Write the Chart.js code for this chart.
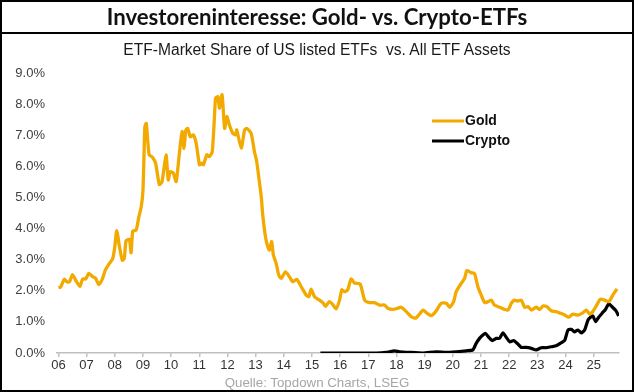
<!DOCTYPE html>
<html>
<head>
<meta charset="utf-8">
<script src="https://cdn.jsdelivr.net/npm/chart.js@4/dist/chart.umd.min.js"></script>
<style>
  html, body { margin: 0; padding: 0; background: #fff; }
  #wrap { position: relative; width: 634px; height: 392px; overflow: hidden; background: #fff; }
  #c { position: absolute; left: 0; top: 0; }
  #frame { position: absolute; left: 0; top: 0; width: 634px; height: 392px; box-sizing: border-box; border: 2px solid #000; pointer-events: none; }
  #header { position: absolute; left: 0; top: 0; width: 634px; height: 34px; box-sizing: border-box; border-bottom: 2px solid #000; text-align: center; font-family: Lato, "Open Sans", sans-serif; font-weight: 700; font-size: 22.2px; line-height: 33px; color: #111; }
  #sub { position: absolute; left: 0; top: 41px; width: 634px; text-align: center; font-family: "Liberation Sans", Arial, sans-serif; font-size: 15.6px; line-height: 18px; color: #1a1a1a; white-space: pre; }
  #src { position: absolute; left: 0; top: 375px; width: 634px; text-align: center; font-family: "Liberation Sans", Arial, sans-serif; font-size: 13.3px; line-height: 16px; color: #a6a6a6; white-space: pre; }
</style>
</head>
<body>
<div id="wrap">
  <canvas id="c" width="634" height="392"></canvas>
  <div id="header">Investoreninteresse: Gold- vs. Crypto-ETFs</div>
  <div id="sub">ETF-Market Share of US listed ETFs  vs. All ETF Assets</div>
  <div id="src">Quelle: Topdown Charts, LSEG</div>
  <div id="frame"></div>
</div>
<script>
const tickYears = [2006,2007,2008,2009,2010,2011,2012,2013,2014,2015,2016,2017,2018,2019,2020,2021,2022,2023,2024,2025];
const tickLabels = ['06','07','08','09','10','11','12','13','14','15','16','17','18','19','20','21','22','23','24','25'];
const yTicks = [0,1,2,3,4,5,6,7,8,9];

const goldDates = [2006.00,2006.08,2006.21,2006.31,2006.40,2006.50,2006.62,2006.76,2006.86,2006.97,
2007.08,2007.22,2007.32,2007.43,2007.55,2007.67,2007.81,2007.93,2008.00,2008.07,
2008.17,2008.27,2008.34,2008.40,2008.52,2008.58,2008.64,2008.76,2008.85,2008.94,
2009.00,2009.04,2009.07,2009.12,2009.22,2009.33,2009.45,2009.58,2009.68,2009.82,
2009.90,2009.97,2010.08,2010.18,2010.30,2010.39,2010.46,2010.52,2010.59,2010.68,
2010.79,2010.89,2011.01,2011.10,2011.15,2011.27,2011.36,2011.46,2011.54,2011.58,
2011.66,2011.72,2011.81,2011.90,2011.98,2012.07,2012.19,2012.29,2012.33,2012.49,
2012.61,2012.69,2012.84,2012.96,2013.04,2013.14,2013.20,2013.26,2013.35,2013.43,
2013.49,2013.57,2013.63,2013.73,2013.82,2013.91,2014.06,2014.20,2014.32,2014.46,
2014.62,2014.80,2014.89,2014.97,2015.09,2015.27,2015.40,2015.48,2015.62,2015.72,
2015.86,2015.98,2016.06,2016.16,2016.27,2016.39,2016.51,2016.71,2016.87,2017.04,
2017.22,2017.40,2017.58,2017.69,2017.87,2018.05,2018.17,2018.35,2018.52,2018.68,
2018.82,2018.94,2019.08,2019.23,2019.39,2019.59,2019.77,2019.89,2020.03,2020.12,
2020.30,2020.42,2020.50,2020.66,2020.77,2020.89,2021.01,2021.13,2021.25,2021.37,
2021.48,2021.66,2021.84,2021.96,2022.08,2022.19,2022.31,2022.43,2022.55,2022.67,
2022.79,2022.96,2023.08,2023.20,2023.34,2023.49,2023.67,2023.81,2023.97,2024.12,
2024.26,2024.44,2024.60,2024.74,2024.86,2024.97,2025.09,2025.24,2025.39,2025.54,
2025.68,2025.83];
const goldValues = [2.10,2.12,2.37,2.28,2.30,2.52,2.33,2.14,2.38,2.38,
2.56,2.45,2.40,2.20,2.36,2.67,2.88,3.04,3.40,3.93,
3.40,2.98,3.05,3.60,3.65,3.22,3.92,3.95,4.35,4.70,
5.20,6.40,7.28,7.38,6.37,6.30,6.10,5.42,5.51,6.37,
5.56,5.83,5.78,5.51,6.47,7.12,6.58,7.15,7.22,6.95,
7.01,6.74,6.05,6.10,6.05,6.37,6.31,6.47,7.60,8.19,
8.24,7.87,8.30,7.22,7.60,7.33,7.06,7.01,7.17,6.58,
7.17,7.22,7.06,6.47,6.15,5.46,5.03,4.38,3.74,3.42,
3.31,3.58,3.15,2.88,2.51,2.40,2.61,2.45,2.29,2.37,
2.13,1.86,1.81,2.05,1.81,1.70,1.60,1.50,1.65,1.58,
1.42,1.70,2.03,1.97,2.03,2.38,2.25,2.22,1.70,1.62,
1.62,1.54,1.54,1.44,1.40,1.44,1.47,1.33,1.17,1.12,
1.25,1.38,1.28,1.20,1.33,1.60,1.60,1.47,1.65,1.97,
2.24,2.40,2.65,2.58,2.56,2.13,1.86,1.62,1.65,1.70,
1.54,1.47,1.40,1.38,1.60,1.70,1.67,1.70,1.47,1.49,
1.38,1.47,1.40,1.51,1.49,1.36,1.33,1.28,1.22,1.15,
1.25,1.22,1.28,1.38,1.25,1.33,1.51,1.73,1.70,1.65,
1.86,2.06];

const cryptoDates = [2015.30,2016.50,2017.28,2017.63,2017.93,2018.11,2018.46,2018.94,2019.41,2019.77,
2020.12,2020.48,2020.71,2020.83,2020.95,2021.07,2021.16,2021.28,2021.40,2021.54,
2021.66,2021.78,2021.90,2022.02,2022.16,2022.31,2022.43,2022.60,2022.79,2022.96,
2023.14,2023.32,2023.49,2023.67,2023.85,2023.97,2024.09,2024.21,2024.32,2024.44,
2024.56,2024.68,2024.80,2024.89,2024.97,2025.07,2025.18,2025.30,2025.42,2025.54,
2025.67,2025.79,2025.89];
const cryptoValues = [0.00,0.00,0.00,0.02,0.07,0.04,0.02,0.00,0.04,0.02,
0.04,0.07,0.10,0.31,0.47,0.58,0.63,0.50,0.40,0.47,
0.47,0.65,0.50,0.36,0.40,0.29,0.18,0.18,0.15,0.10,
0.17,0.17,0.20,0.23,0.33,0.40,0.74,0.76,0.68,0.74,
0.65,0.74,1.06,1.15,1.19,1.01,1.15,1.28,1.40,1.58,
1.47,1.36,1.19];

const seriesNames = ['Gold','Crypto'];
const seriesColors = ['#F2A900','#000000'];

const legendPlugin = {
  id: 'customLegend',
  afterDraw(chart) {
    const ctx = chart.ctx;
    ctx.save();
    chart.data.datasets.forEach((ds, i) => {
      const y = 121 + i * 20;
      ctx.strokeStyle = ds.borderColor;
      ctx.lineWidth = 3;
      ctx.beginPath();
      ctx.moveTo(432, y);
      ctx.lineTo(464, y);
      ctx.stroke();
      ctx.fillStyle = '#111';
      ctx.font = 'bold 14px "Liberation Sans", Arial, sans-serif';
      ctx.textBaseline = 'middle';
      ctx.textAlign = 'left';
      ctx.fillText(ds.label, 465, y + 0.5);
    });
    ctx.restore();
  }
};

new Chart(document.getElementById('c'), {
  type: 'line',
  data: {
    datasets: [
      { label: seriesNames[0], data: goldDates.map((d, i) => ({ x: d, y: goldValues[i] })), borderColor: seriesColors[0], borderWidth: 3.3, pointRadius: 0, tension: 0.2, fill: false },
      { label: seriesNames[1], data: cryptoDates.map((d, i) => ({ x: d, y: cryptoValues[i] })), borderColor: seriesColors[1], borderWidth: 3.2, pointRadius: 0, tension: 0.2, fill: false }
    ]
  },
  plugins: [legendPlugin],
  options: {
    responsive: false,
    animation: false,
    devicePixelRatio: 1,
    layout: { padding: { left: 2, top: 73, right: 15, bottom: 0 } },
    plugins: { legend: { display: false }, tooltip: { enabled: false }, title: { display: false } },
    scales: {
      x: {
        type: 'linear', min: 2005.95, max: 2025.9,
        afterBuildTicks: s => { s.ticks = tickYears.map(v => ({ value: v })); },
        afterFit: s => { s.height = 39; },
        ticks: { callback: (v, i) => tickLabels[i], autoSkip: false, maxRotation: 0, padding: 1, color: '#333', font: { family: '"Liberation Sans", Arial, sans-serif', size: 13 } },
        grid: { display: true, drawOnChartArea: false, drawTicks: true, tickLength: 4, color: '#c0c0c0', lineWidth: 1.5 },
        border: { display: true, color: '#c0c0c0', width: 1.5 }
      },
      y: {
        min: 0, max: 9,
        afterBuildTicks: s => { s.ticks = yTicks.map(v => ({ value: v })); },
        afterFit: s => { s.width = 55; },
        ticks: { callback: v => v.toFixed(1) + '%', padding: 12, color: '#404040', font: { family: '"Liberation Sans", Arial, sans-serif', size: 13 } },
        grid: { display: false, drawTicks: false },
        border: { display: false }
      }
    }
  }
});
</script>
</body>
</html>
